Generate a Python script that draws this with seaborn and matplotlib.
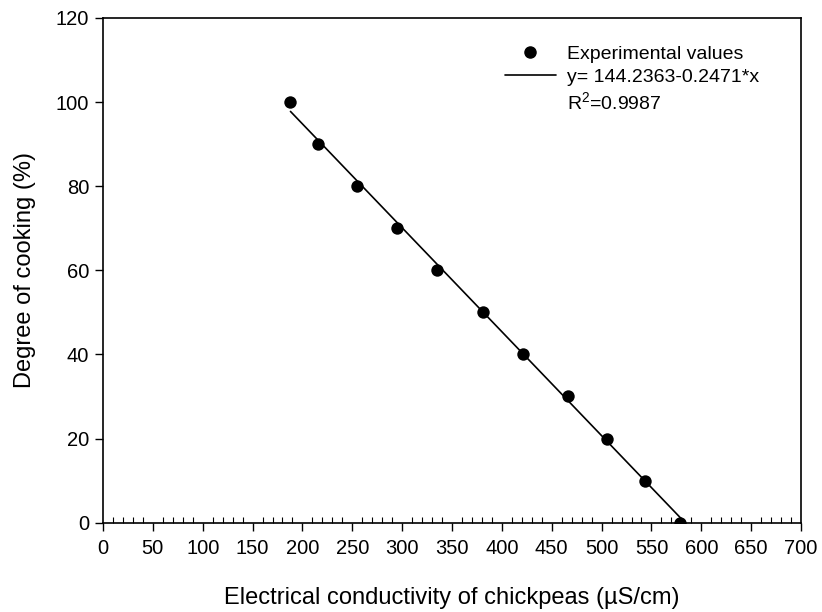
import numpy as np
import pandas as pd
import matplotlib
matplotlib.use("Agg")
import matplotlib.pyplot as plt
from matplotlib.lines import Line2D
from matplotlib.ticker import MultipleLocator
import seaborn as sns

# data
conductivity = [188, 216, 255, 295, 335, 381, 421, 466, 505, 544, 579]
cooking = [100, 90, 80, 70, 60, 50, 40, 30, 20, 10, 0]
intercept = 144.2363
slope = -0.2471
r2 = 0.9987

df = pd.DataFrame({"x": conductivity, "y": cooking})
fit_x = [min(conductivity), max(conductivity)]
fit = pd.DataFrame({"x": fit_x, "y": [intercept + slope * v for v in fit_x]})

sns.set_style("ticks")
plt.rcParams["font.family"] = ["Liberation Sans", "DejaVu Sans"]
plt.rcParams["mathtext.fontset"] = "custom"
plt.rcParams["mathtext.rm"] = "Liberation Sans"
for k in ["text.color", "axes.labelcolor", "xtick.color", "ytick.color"]:
    plt.rcParams[k] = "black"

fig = plt.figure(figsize=(8.22, 6.12), dpi=100)
ax = fig.add_axes([0.1253, 0.146, 0.8492, 0.8246])

sns.lineplot(data=fit, x="x", y="y", ax=ax, color="black", linewidth=1.2, zorder=2)
sns.scatterplot(data=df, x="x", y="y", ax=ax, color="black", s=80,
                edgecolor="black", linewidth=0, zorder=3)

ax.set_xlim(0, 700)
ax.set_ylim(0, 120)
ax.xaxis.set_major_locator(MultipleLocator(50))
ax.xaxis.set_minor_locator(MultipleLocator(10))
ax.yaxis.set_major_locator(MultipleLocator(20))

ax.tick_params(axis="x", which="major", direction="out", length=6, width=1,
               labelsize=14.5, pad=6, top=False)
ax.tick_params(axis="x", which="minor", direction="in", length=4, width=0.8, top=False)
ax.tick_params(axis="y", which="major", direction="out", length=6, width=1,
               labelsize=14.5, pad=4, right=False)
for sp in ax.spines.values():
    sp.set_visible(True)
    sp.set_linewidth(1.2)
    sp.set_color("black")

ax.set_xlabel("Electrical conductivity of chickpeas (µS/cm)", fontsize=17, labelpad=21)
ax.set_ylabel("Degree of cooking (%)", fontsize=17, labelpad=14)

handles = [
    Line2D([], [], marker="o", color="black", linestyle="none", markersize=8),
    Line2D([], [], color="black", linewidth=1.2),
    Line2D([], [], color="none"),
]
labels = [
    "Experimental values",
    "y= 144.2363-0.2471*x",
    "R$^2$=%.4f" % r2,
]
ax.legend(handles, labels, loc="upper left", bbox_to_anchor=(0.565, 0.962),
          frameon=False, fontsize=14, handlelength=2.6, handletextpad=0.6,
          labelspacing=0.3, borderaxespad=0)

fig.savefig("out.png", dpi=100)
